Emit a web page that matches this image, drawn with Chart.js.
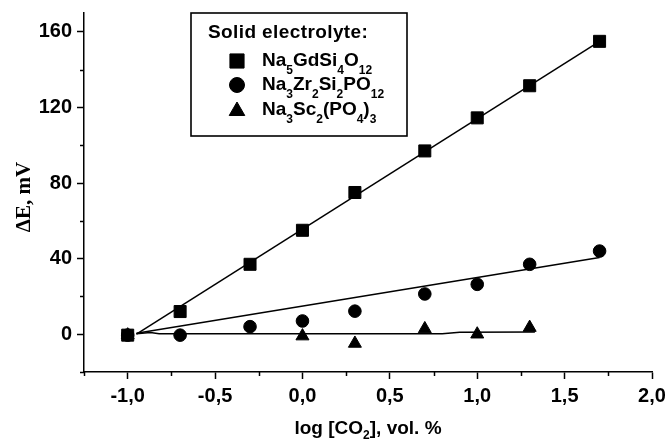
<!DOCTYPE html>
<html><head><meta charset="utf-8">
<script src="https://cdn.jsdelivr.net/npm/chart.js@4.4.0/dist/chart.umd.min.js"></script>
<style>html,body{margin:0;padding:0;background:#fff;overflow:hidden}#wrap{width:665px;height:439px}</style>
</head><body><div id="wrap"><canvas id="c" width="665" height="439"></canvas></div>
<script>
// ---- data ----
const xValues  = [-1.0, -0.7, -0.3, 0.0, 0.3, 0.7, 1.0, 1.3, 1.7];
const gdValues = [-0.5, 12, 37, 55, 75, 97, 114.5, 131.5, 155];      // Na5GdSi4O12
const zrValues = [-0.5, -0.5, 4, 7, 12.2, 21.3, 26.4, 37, 44];       // Na3Zr2Si2PO12
const scX      = [-1.0, 0.0, 0.3, 0.7, 1.0, 1.3];
const scValues = [-0.5, -1, -4.9, 2.8, 0, 3.5];                      // Na3Sc2(PO4)3
const gdFitX = [-0.95, 1.7];  const gdFitY = [0, 155];
const zrFitX = [-0.95, 1.7];  const zrFitY = [0.5, 40.6];
const scFitX = [-0.95, -0.87, -0.82, 0.8, 0.9, 1.33];
const scFitY = [0.3, 0.9, 0.2, 0.2, 1.0, 1.2];
const xMajor = [-1.0, -0.5, 0.0, 0.5, 1.0, 1.5, 2.0];
const xTickLabels = ['-1,0', '-0,5', '0,0', '0,5', '1,0', '1,5', '2,0'];
const yMajor = [0, 40, 80, 120, 160];
const yTickLabels = ['0', '40', '80', '120', '160'];
const legendTitle = 'Solid electrolyte:';
const seriesNames = [
  [['Na',0],['5',1],['GdSi',0],['4',1],['O',0],['12',1]],
  [['Na',0],['3',1],['Zr',0],['2',1],['Si',0],['2',1],['PO',0],['12',1]],
  [['Na',0],['3',1],['Sc',0],['2',1],['(PO',0],['4',1],[')',0],['3',1]]
];
const xTitle = [['log [CO',0],['2',1],['], vol. %',0]];
const yTitle = 'ΔE, mV';

const pts = (xs, ys) => xs.map((x, i) => ({x: x, y: ys[i]}));
const isMajorX = v => xMajor.some(m => Math.abs(m - v) < 1e-9);
const isMajorY = v => yMajor.some(m => Math.abs(m - v) < 1e-9);
const SANS = '"Liberation Sans", Arial, sans-serif';

function drawRich(ctx, parts, x, base, mainSize, subSize, subDrop) {
  let cx = x;
  parts.forEach(([t, sub]) => {
    ctx.font = 'bold ' + (sub ? subSize : mainSize) + 'px ' + SANS;
    ctx.fillText(t, cx, sub ? base + subDrop : base);
    cx += ctx.measureText(t).width;
  });
  return cx - x;
}
function richWidth(ctx, parts, mainSize, subSize) {
  let w = 0;
  parts.forEach(([t, sub]) => { ctx.font = 'bold ' + (sub ? subSize : mainSize) + 'px ' + SANS; w += ctx.measureText(t).width; });
  return w;
}

const decor = {
  id: 'decor',
  afterDraw(chart) {
    const ctx = chart.ctx;
    const xs = chart.scales.x, ys = chart.scales.y;
    ctx.save();
    ctx.strokeStyle = '#000'; ctx.fillStyle = '#000'; ctx.lineWidth = 1.5;
    // minor ticks
    xs.ticks.forEach(t => {
      if (isMajorX(t.value)) return;
      const px = Math.round(xs.getPixelForValue(t.value)) + 0.5;
      ctx.beginPath(); ctx.moveTo(px, xs.top); ctx.lineTo(px, xs.top + 4); ctx.stroke();
    });
    ys.ticks.forEach(t => {
      if (isMajorY(t.value)) return;
      const py = Math.round(ys.getPixelForValue(t.value)) + 0.5;
      ctx.beginPath(); ctx.moveTo(ys.right, py); ctx.lineTo(ys.right - 4, py); ctx.stroke();
    });
    // y title
    ctx.save();
    ctx.translate(25, 197); ctx.rotate(-Math.PI / 2);
    ctx.font = 'bold 21px "Liberation Serif", "Times New Roman", serif';
    ctx.textAlign = 'center'; ctx.textBaseline = 'middle';
    ctx.fillText(yTitle, 0, 0);
    ctx.restore();
    // x title
    ctx.textAlign = 'left'; ctx.textBaseline = 'alphabetic';
    const cxm = (chart.chartArea.left + chart.chartArea.right) / 2;
    const tw = richWidth(ctx, xTitle, 19, 12);
    drawRich(ctx, xTitle, cxm - tw / 2, 434, 19, 12, 5);
    // legend box
    ctx.lineWidth = 1.6;
    ctx.strokeRect(191, 13, 216, 123);
    ctx.font = 'bold 19px ' + SANS;
    if ('letterSpacing' in ctx) ctx.letterSpacing = '0.4px';
    ctx.fillText(legendTitle, 208, 38);
    if ('letterSpacing' in ctx) ctx.letterSpacing = '0px';
    const styles = [
      {pointStyle: 'rect', radius: 10, y: 61, base: 66},
      {pointStyle: 'circle', radius: 7.5, y: 85, base: 90},
      {pointStyle: 'triangle', radius: 9, y: 111, base: 114.5}
    ];
    styles.forEach((s, i) => {
      ctx.lineWidth = 1;
      Chart.helpers.drawPoint(ctx, {pointStyle: s.pointStyle, radius: s.radius, borderWidth: 1, rotation: 0}, 237, s.y);
      drawRich(ctx, seriesNames[i], 262, s.base, 19, 12, 8);
    });
    ctx.restore();
  }
};

const markerCommon = {showLine: false, backgroundColor: '#000', borderColor: '#000', pointBackgroundColor: '#000', pointBorderColor: '#000', pointBorderWidth: 1};
const lineCommon = {showLine: true, borderColor: '#000', borderWidth: 1.5, pointRadius: 0, tension: 0, fill: false};

new Chart(document.getElementById('c'), {
  type: 'scatter',
  data: {
    datasets: [
      Object.assign({data: pts(xValues, gdValues), pointStyle: 'rect', pointRadius: 8.5}, markerCommon),
      Object.assign({data: pts(xValues, zrValues), pointStyle: 'circle', pointRadius: 6.3}, markerCommon),
      Object.assign({data: pts(scX, scValues), pointStyle: 'triangle', pointRadius: 7.5}, markerCommon),
      Object.assign({data: pts(gdFitX, gdFitY)}, lineCommon),
      Object.assign({data: pts(zrFitX, zrFitY)}, lineCommon),
      Object.assign({data: pts(scFitX, scFitY)}, lineCommon)
    ]
  },
  options: {
    responsive: false, animation: false, devicePixelRatio: 1,
    layout: {padding: {top: 13, right: 13, left: 0, bottom: 0}},
    plugins: {legend: {display: false}, tooltip: {enabled: false}},
    scales: {
      x: {
        type: 'linear', min: -1.25, max: 2.0,
        ticks: {stepSize: 0.25, autoSkip: false, maxRotation: 0, color: '#000', padding: 5,
          font: {family: SANS, weight: 'bold', size: 20},
          callback: v => { const i = xMajor.findIndex(m => Math.abs(m - v) < 1e-9); return i >= 0 ? xTickLabels[i] : ''; }},
        grid: {drawOnChartArea: false, drawTicks: true, tickLength: 7, tickWidth: 1.5,
          tickColor: c => (c.tick && isMajorX(c.tick.value)) ? '#000' : 'rgba(0,0,0,0)'},
        border: {display: true, color: '#000', width: 1.5},
        afterFit: s => { s.height = 67; s.paddingLeft = 0; s.paddingRight = 0; }
      },
      y: {
        type: 'linear', min: -20, max: 170,
        ticks: {stepSize: 20, includeBounds: false, autoSkip: false, color: '#000', padding: 5,
          font: {family: SANS, weight: 'bold', size: 20},
          callback: v => { const i = yMajor.findIndex(m => Math.abs(m - v) < 1e-9); return i >= 0 ? yTickLabels[i] : ''; }},
        grid: {drawOnChartArea: false, drawTicks: true, tickLength: 7, tickWidth: 1.5,
          tickColor: c => (c.tick && isMajorY(c.tick.value)) ? '#000' : 'rgba(0,0,0,0)'},
        border: {display: true, color: '#000', width: 1.5},
        afterFit: s => { s.width = 84; s.paddingTop = 0; s.paddingBottom = 0; }
      }
    }
  },
  plugins: [decor]
});
</script></body></html>
